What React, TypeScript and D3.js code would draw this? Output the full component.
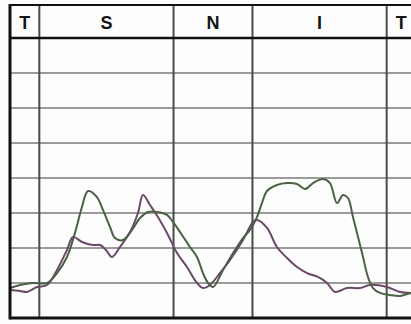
import React from "react";
import * as d3 from "d3";

// TSNIT thickness profile, angle in degrees (0–360) around the disc
const sectionBounds = [0, 26, 145, 215, 334, 360];
const sectionLabels = ["T", "S", "N", "I", "T"];
const gridValues = [25, 50, 75, 100, 125, 150, 175];

const greenAngle = [0, 8.9, 20.4, 32.8, 41.7, 50.5, 57.6, 63.8, 69.2, 77.1, 82.5, 88.7, 93.1, 100.2, 108.2, 115.3, 122.4, 130.3, 139.2, 144.5, 152.5, 159.6, 165.8, 171.1, 175.6, 180, 188.9, 197.8, 206.6, 212.8, 219, 223.4, 227.9, 236.7, 245.6, 254.5, 261.6, 268.7, 277.5, 283.7, 289.9, 295.3, 299.7, 304.1, 308.6, 313, 317.4, 321.9, 328.1, 336.9, 345.8, 355.6, 360];
const greenValue = [21.4, 23.6, 25, 25, 32.1, 43.6, 60.7, 79.3, 90.7, 86.4, 77.1, 65, 57.1, 55.7, 62.9, 71.4, 75.7, 75.7, 73.6, 68.6, 59.3, 50.7, 43.6, 32.1, 25, 22.1, 34.3, 46.4, 57.1, 62.9, 72.1, 82.1, 90.7, 95, 96.4, 95.7, 92.1, 96.4, 99.3, 96.4, 82.1, 87.9, 85.7, 72.1, 57.9, 43.6, 29.3, 21.4, 17.9, 16.4, 15.7, 17.9, 18];

const purpleAngle = [0, 8.9, 15.1, 23.9, 32.8, 41.7, 50.5, 55.9, 63.8, 73.6, 79.8, 85.1, 90.4, 97.5, 106.4, 113.5, 117.9, 124.1, 131.2, 140.1, 148.1, 156.9, 165.8, 171.1, 177.3, 186.2, 195.1, 206.6, 215.5, 219, 227.9, 236.7, 245.6, 254.5, 263.4, 273.1, 281.1, 288.2, 298.8, 310.3, 319.2, 334.3, 345.8, 355.6, 360];
const purpleValue = [20, 19.3, 18.6, 22.1, 23.6, 34.3, 48.6, 57.9, 54.3, 52.1, 52.1, 48.6, 43.6, 50.7, 61.4, 75, 87.9, 80.7, 72.1, 59.3, 46.4, 36.4, 25, 21.4, 23.6, 32.1, 41.4, 55.7, 68.6, 70, 64.3, 50.7, 42.9, 36.4, 32.1, 29.3, 25, 18.6, 21.4, 21.4, 23.6, 22.1, 18.6, 17.9, 18];

const W = 411;
const H = 324;
const left = 10;
const right = 416;
const top = 5;
const headerBottom = 38;
const bottom = 318;

export default function App() {
  const x = d3.scaleLinear().domain([0, 360]).range([left, right]);
  const y = d3.scaleLinear().domain([0, 200]).range([bottom, headerBottom]);

  const line = d3
    .line<[number, number]>()
    .x((d) => x(d[0]))
    .y((d) => y(d[1]))
    .curve(d3.curveCatmullRom.alpha(0.5));

  const green = greenAngle.map((a, i) => [a, greenValue[i]] as [number, number]);
  const purple = purpleAngle.map((a, i) => [a, purpleValue[i]] as [number, number]);

  return (
    <svg
      width={W}
      height={H}
      style={{ position: "fixed", left: 0, top: 0, background: "#fff" }}
      fontFamily="'Liberation Sans', Arial, sans-serif"
    >
      <rect x={0} y={0} width={W} height={H} fill="#fdfdfd" />
      {/* horizontal grid */}
      {gridValues.map((v) => (
        <line key={v} x1={left} x2={W} y1={y(v)} y2={y(v)} stroke="#7a7a7a" strokeWidth={1.6} />
      ))}
      {/* section dividers */}
      {sectionBounds.slice(1, -1).map((b) => (
        <line key={b} x1={x(b)} x2={x(b)} y1={top} y2={bottom} stroke="#4a4a4a" strokeWidth={2} />
      ))}
      {/* curves */}
      <path d={line(purple) ?? ""} fill="none" stroke="#6a4868" strokeWidth={2} strokeLinejoin="round" />
      <path d={line(green) ?? ""} fill="none" stroke="#4a6244" strokeWidth={2} strokeLinejoin="round" />
      {/* frame */}
      <line x1={left} x2={W} y1={top} y2={top} stroke="#111" strokeWidth={2} />
      <line x1={left} x2={W} y1={headerBottom} y2={headerBottom} stroke="#111" strokeWidth={2.5} />
      <line x1={left} x2={W} y1={bottom} y2={bottom} stroke="#111" strokeWidth={3} />
      <line x1={left} x2={left} y1={top - 1} y2={bottom + 1.5} stroke="#111" strokeWidth={3} />
      {/* section labels */}
      {sectionLabels.map((s, i) => (
        <text
          key={i}
          x={x((sectionBounds[i] + sectionBounds[i + 1]) / 2)}
          y={29}
          textAnchor="middle"
          fontSize={18}
          fontWeight="bold"
          fill="#151515"
        >
          {s}
        </text>
      ))}
    </svg>
  );
}
